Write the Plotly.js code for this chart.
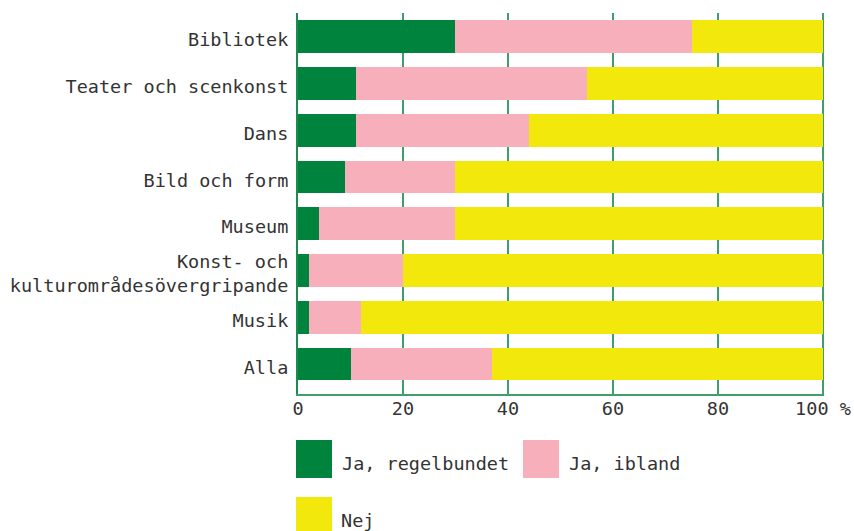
<!DOCTYPE html>
<html>
<head>
<meta charset="utf-8">
<script src="https://cdn.plot.ly/plotly-3.0.1.min.js"></script>
<style>html,body{margin:0;padding:0;background:#fff;}#chart{width:854px;height:531px;}</style>
</head>
<body>
<div id="chart"></div>
<script>
var categories = ["Bibliotek", "Teater och scenkonst", "Dans", "Bild och form", "Museum", "Konst- och<br>kulturområdesövergripande", "Musik", "Alla"];
var regelbundet = [30, 11, 11, 9, 4, 2, 2, 10];
var ibland = [45, 44, 33, 21, 26, 18, 10, 27];
var nej = [25, 45, 56, 70, 70, 80, 88, 63];
var seriesNames = ["Ja, regelbundet", "Ja, ibland", "Nej"];
var colors = ["#00843d", "#f6afbb", "#f3e80b"];
var tickVals = [0, 20, 40, 60, 80, 100];
var tickLabels = ["0", "20", "40", "60", "80", "100 %"];

var FONT = "'DejaVu Sans Mono', 'Liberation Mono', monospace";
var FS = 18.5;
var TXT = "#333333";
var L = 298, R = 824, T = 13, B = 394;
function px(x) { return (x - L) / (R - L); }
function py(y) { return (B - y) / (B - T); }

var values = [regelbundet, ibland, nej];
var traces = values.map(function (v, i) {
  return {
    type: "bar", orientation: "h",
    y: categories, x: v, name: seriesNames[i],
    marker: {color: colors[i], line: {width: 0}},
    width: 0.7, showlegend: false, hoverinfo: "x+y"
  };
});

var legendItems = [
  {x: 296, y: 440, tx: 340},
  {x: 523, y: 440, tx: 567},
  {x: 296, y: 497, tx: 339}
];
var shapes = [], annotations = [];
legendItems.forEach(function (it, i) {
  shapes.push({type: "rect", xref: "paper", yref: "paper",
    x0: px(it.x), x1: px(it.x + 36), y0: py(it.y), y1: py(it.y + 38),
    fillcolor: colors[i], line: {width: 0}});
  annotations.push({xref: "paper", yref: "paper", x: px(it.tx), y: py(it.y + 23),
    xanchor: "left", yanchor: "middle", showarrow: false, text: seriesNames[i],
    font: {family: FONT, size: FS, color: TXT}});
});

var layout = {
  width: 854, height: 531,
  margin: {l: L, r: 854 - R, t: T, b: 531 - B, pad: 0},
  barmode: "stack",
  paper_bgcolor: "#ffffff", plot_bgcolor: "#ffffff",
  font: {family: FONT, size: FS, color: TXT},
  showlegend: false,
  xaxis: {
    range: [0, 100.2], tickvals: tickVals, ticktext: tickLabels,
    showgrid: true, gridcolor: "#3f9f6c", gridwidth: 1.5,
    zeroline: false, showline: true, linecolor: "#3f9f6c", linewidth: 2,
    ticks: "", ticklabelstandoff: -3,
    tickfont: {family: FONT, size: FS, color: TXT}, fixedrange: true
  },
  yaxis: {
    type: "category", range: [7.64, -0.51],
    showgrid: false, zeroline: false, showline: true, linecolor: "#1f8a50", linewidth: 2,
    ticks: "", ticklabelstandoff: 4, ticklabelshift: -3,
    tickfont: {family: FONT, size: FS, color: TXT}, fixedrange: true
  },
  shapes: shapes,
  annotations: annotations
};

Plotly.newPlot("chart", traces, layout, {displayModeBar: false, staticPlot: true});
</script>
</body>
</html>
